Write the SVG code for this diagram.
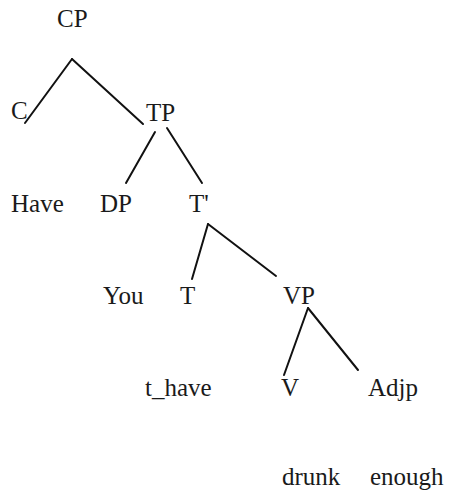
<svg xmlns="http://www.w3.org/2000/svg" width="449" height="493" viewBox="0 0 449 493">
<style>
text{font-family:"Liberation Serif","Times New Roman",serif;font-size:25px;fill:#1a1a1a}
.e line{stroke:#111;stroke-width:2;stroke-linecap:round}
</style>
<rect width="449" height="493" fill="#fff"/>
<g class="e" id="connectors">
<line x1="72" y1="59" x2="25" y2="123"/>
<line x1="72" y1="59" x2="143" y2="124"/>
<line x1="155" y1="132" x2="126" y2="183"/>
<line x1="167" y1="128" x2="202" y2="183"/>
<line x1="208" y1="224" x2="192" y2="279"/>
<line x1="208" y1="224" x2="276" y2="276"/>
<line x1="308" y1="308" x2="284" y2="375"/>
<line x1="308" y1="308" x2="358" y2="370"/>
</g>
<g id="CP"><text x="57" y="27">CP</text></g>
<g id="C"><text x="11" y="119">C</text></g>
<g id="TP"><text x="146" y="121">TP</text></g>
<g id="Have"><text x="11" y="212">Have</text></g>
<g id="DP"><text x="100" y="212">DP</text></g>
<g id="Tbar"><text x="189" y="212">T'</text></g>
<g id="You"><text x="103" y="304">You</text></g>
<g id="T"><text x="180" y="304">T</text></g>
<g id="VP"><text x="283" y="304">VP</text></g>
<g id="t_have"><text x="145" y="396">t_have</text></g>
<g id="V"><text x="281" y="396">V</text></g>
<g id="Adjp"><text x="368" y="396">Adjp</text></g>
<g id="drunk"><text x="282" y="485">drunk</text></g>
<g id="enough"><text x="370" y="485">enough</text></g>
</svg>
